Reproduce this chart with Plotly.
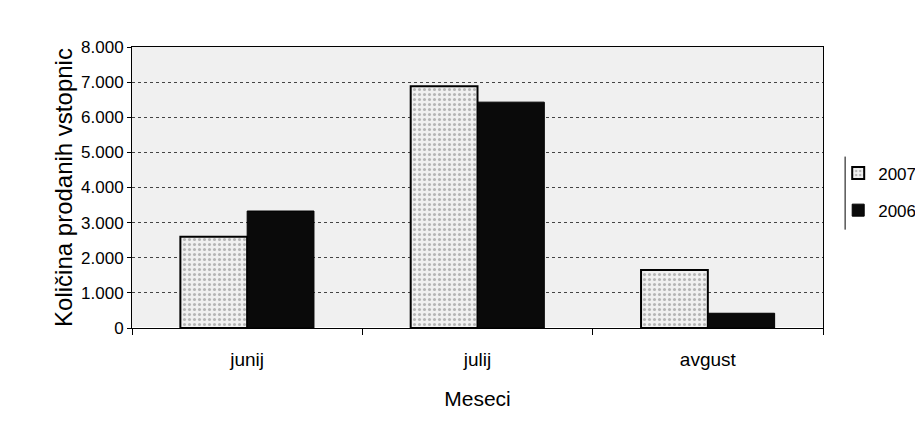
import plotly.graph_objects as go

months = ["junij", "julij", "avgust"]
vals_2007 = [2600, 6880, 1650]
vals_2006 = [3330, 6430, 420]
y_ticks = [0, 1000, 2000, 3000, 4000, 5000, 6000, 7000, 8000]

FONT = "Liberation Sans, Arial, sans-serif"

fig = go.Figure()
fig.add_trace(go.Bar(
    x=months, y=vals_2007, name="2007", legendgroup="a",
    marker=dict(color="#e4e4e4", line=dict(color="black", width=2),
                pattern=dict(shape=".", fgcolor="#7a7a7a", bgcolor="#f0f0f0", size=5, solidity=0.3)),
))
fig.add_trace(go.Bar(
    x=months, y=vals_2006, name="2006", legendgroup="b",
    marker=dict(color="#0a0a0a", line=dict(color="black", width=1)),
))

fig.update_layout(
    width=923, height=433,
    margin=dict(l=124, r=108, t=39, b=113, autoexpand=False),
    paper_bgcolor="white", plot_bgcolor="#f0f0f0",
    barmode="group", bargap=0.42, bargroupgap=0,
    separators=",.",
    font=dict(family=FONT, size=17, color="black"),
    showlegend=True,
    legend=dict(x=1.022, y=0.484, xanchor="left", yanchor="middle",
                borderwidth=0, bgcolor="rgba(0,0,0,0)",
                font=dict(size=17), itemwidth=30, tracegroupgap=12,
                traceorder="grouped"),
    xaxis=dict(
        showline=True, linecolor="black", linewidth=1, mirror=True,
        ticks="outside", tickson="boundaries", ticklen=6, tickcolor="black",
        ticklabelstandoff=14,
        title=dict(text="Meseci", font=dict(size=21), standoff=22),
        tickfont=dict(size=19),
    ),
    yaxis=dict(
        range=[0, 8000], tickvals=y_ticks, tickformat=",d",
        showline=True, linecolor="black", linewidth=1, mirror=True,
        showgrid=True, gridcolor="#444444", gridwidth=1, griddash="dot",
        ticks="outside", ticklen=4, tickcolor="black",
        title=dict(text="Količina prodanih vstopnic", font=dict(size=24), standoff=1),
        tickfont=dict(size=17),
    ),
    shapes=[dict(type="line", xref="paper", yref="paper",
                 x0=1.032, x1=1.032, y0=0.35, y1=0.61,
                 line=dict(color="black", width=1))],
)

fig.write_html("out.html")
